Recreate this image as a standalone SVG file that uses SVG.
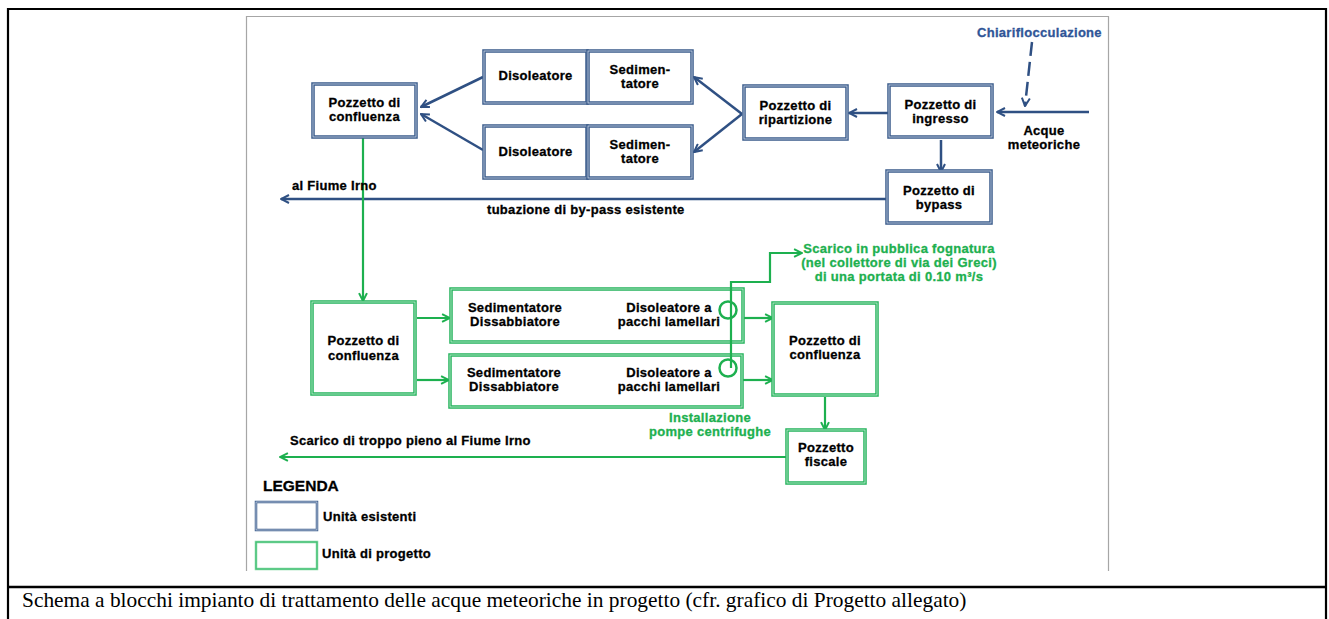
<svg xmlns="http://www.w3.org/2000/svg" width="1329" height="619" viewBox="0 0 1329 619">
<style>
.t{font-family:"Liberation Sans",Arial,sans-serif;font-weight:bold;font-size:13px;letter-spacing:0.3px;fill:#000;stroke:#000;stroke-width:0.3;}
.c{text-anchor:middle;}
.bt{fill:#2f5597;stroke:#2f5597;}
.gt{fill:#1db04f;stroke:#1db04f;}
.eb{fill:#fff;stroke:#3a5b8b;stroke-width:3.5;}
.ebi{fill:none;stroke:#cfdae9;stroke-width:0.8;}
.gb{fill:#fff;stroke:#25b35c;stroke-width:3.5;}
.gbi{fill:none;stroke:#c8efd6;stroke-width:0.8;}
.bl{fill:none;stroke:#2f5083;stroke-width:2.5;}
.gl{fill:none;stroke:#1db04f;stroke-width:2.2;}
.cap{font-family:"Liberation Serif","Times New Roman",serif;font-size:21.4px;fill:#000;}
</style>
<defs>
<marker id="ab" viewBox="0 0 10 10" refX="9" refY="5" markerWidth="4" markerHeight="4" orient="auto" markerUnits="strokeWidth">
<path d="M1,1 L9,5 L1,9" fill="none" stroke="#2f5083" stroke-width="2"/>
</marker>
<marker id="ag" viewBox="0 0 10 10" refX="9" refY="5" markerWidth="4.5" markerHeight="4.5" orient="auto" markerUnits="strokeWidth">
<path d="M1,1 L9,5 L1,9" fill="none" stroke="#1db04f" stroke-width="2"/>
</marker>
</defs>
<rect width="1329" height="619" fill="#fff"/>
<g id="frame">
<path d="M8,625 L8,9 L1326,9 L1326,625" fill="none" stroke="#000" stroke-width="2.2"/>
<line x1="8" y1="587" x2="1326" y2="587" stroke="#000" stroke-width="2.5"/>
<path d="M246.5,571 L246.5,16.5 L1108.5,16.5 L1108.5,571" fill="none" stroke="#a6a6a6" stroke-width="1.2"/>
</g>
<g id="connectors">
<line class="bl" x1="483" y1="77" x2="421" y2="107" marker-end="url(#ab)"/>
<line class="bl" x1="483" y1="150" x2="421" y2="114" marker-end="url(#ab)"/>
<line class="bl" x1="742" y1="114" x2="694" y2="77" marker-end="url(#ab)"/>
<line class="bl" x1="742" y1="114" x2="694" y2="152" marker-end="url(#ab)"/>
<line class="bl" x1="889" y1="113" x2="849" y2="113" marker-end="url(#ab)"/>
<line class="bl" x1="1089" y1="112" x2="997" y2="112" marker-end="url(#ab)"/>
<line class="bl" x1="1032" y1="42" x2="1025" y2="106" stroke-dasharray="14,6" marker-end="url(#ab)"/>
<line class="bl" x1="941" y1="140" x2="941" y2="172" marker-end="url(#ab)"/>
<line class="bl" x1="887" y1="199" x2="281" y2="199" marker-end="url(#ab)"/>
<line class="gl" x1="363" y1="138" x2="363" y2="301" marker-end="url(#ag)"/>
<line class="gl" x1="417" y1="318" x2="450" y2="318" marker-end="url(#ag)"/>
<line class="gl" x1="417" y1="380" x2="449" y2="380" marker-end="url(#ag)"/>
<line class="gl" x1="744" y1="318" x2="773" y2="318" marker-end="url(#ag)"/>
<line class="gl" x1="742" y1="380" x2="773" y2="380" marker-end="url(#ag)"/>
<line class="gl" x1="825" y1="397" x2="825" y2="430" marker-end="url(#ag)"/>
<line class="gl" x1="787" y1="457" x2="280" y2="457" marker-end="url(#ag)"/>
</g>
<g id="n_conf_top"><rect class="eb" x="313" y="84" width="103" height="53"/><rect class="ebi" x="313" y="84" width="103" height="53"/>
<text class="t c" x="364.5" y="107">Pozzetto di</text><text class="t c" x="364.5" y="121">confluenza</text></g>
<g id="n_diso1"><rect class="eb" x="484" y="51" width="103" height="52"/><rect class="ebi" x="484" y="51" width="103" height="52"/>
<text class="t c" x="535.5" y="79.5">Disoleatore</text></g>
<g id="n_sed1"><rect class="eb" x="588" y="51" width="104" height="52"/><rect class="ebi" x="588" y="51" width="104" height="52"/>
<text class="t c" x="640" y="74">Sedimen-</text><text class="t c" x="640" y="88">tatore</text></g>
<g id="n_diso2"><rect class="eb" x="484" y="126" width="103" height="52"/><rect class="ebi" x="484" y="126" width="103" height="52"/>
<text class="t c" x="535.5" y="156">Disoleatore</text></g>
<g id="n_sed2"><rect class="eb" x="588" y="126" width="104" height="52"/><rect class="ebi" x="588" y="126" width="104" height="52"/>
<text class="t c" x="640" y="148.5">Sedimen-</text><text class="t c" x="640" y="162.5">tatore</text></g>
<g id="n_ripartizione"><rect class="eb" x="744" y="86" width="103" height="53"/><rect class="ebi" x="744" y="86" width="103" height="53"/>
<text class="t c" x="795.5" y="110">Pozzetto di</text><text class="t c" x="795.5" y="124">ripartizione</text></g>
<g id="n_ingresso"><rect class="eb" x="889" y="85" width="103" height="52"/><rect class="ebi" x="889" y="85" width="103" height="52"/>
<text class="t c" x="940.5" y="109">Pozzetto di</text><text class="t c" x="940.5" y="122.5">ingresso</text></g>
<g id="n_bypass"><rect class="eb" x="887" y="171" width="104" height="52"/><rect class="ebi" x="887" y="171" width="104" height="52"/>
<text class="t c" x="939" y="195">Pozzetto di</text><text class="t c" x="939" y="209">bypass</text></g>
<g id="n_conf_g1"><rect class="gb" x="312" y="302" width="103" height="92"/><rect class="gbi" x="312" y="302" width="103" height="92"/>
<text class="t c" x="363.5" y="345">Pozzetto di</text><text class="t c" x="363.5" y="359.5">confluenza</text></g>
<g id="n_line1"><rect class="gb" x="451" y="289" width="292" height="53"/><rect class="gbi" x="451" y="289" width="292" height="53"/>
<text class="t c" x="515" y="312">Sedimentatore</text><text class="t c" x="515" y="326">Dissabbiatore</text>
<text class="t c" x="669" y="312">Disoleatore a</text><text class="t c" x="669" y="326">pacchi lamellari</text></g>
<g id="n_line2"><rect class="gb" x="450" y="355" width="292" height="52"/><rect class="gbi" x="450" y="355" width="292" height="52"/>
<text class="t c" x="514" y="377">Sedimentatore</text><text class="t c" x="514" y="391">Dissabbiatore</text>
<text class="t c" x="669" y="377">Disoleatore a</text><text class="t c" x="669" y="391">pacchi lamellari</text></g>
<g id="n_pumps">
<circle cx="728" cy="310" r="8.5" fill="none" stroke="#1db04f" stroke-width="2.5"/>
<circle cx="728" cy="368" r="8.5" fill="none" stroke="#1db04f" stroke-width="2.5"/>
<polyline class="gl" points="731,368 731,282 770,282 770,253 802,253" marker-end="url(#ag)"/>
</g>
<g id="n_conf_g2"><rect class="gb" x="773" y="303" width="104" height="92"/><rect class="gbi" x="773" y="303" width="104" height="92"/>
<text class="t c" x="825" y="344.5">Pozzetto di</text><text class="t c" x="825" y="359">confluenza</text></g>
<g id="n_fiscale"><rect class="gb" x="787" y="430" width="78" height="53"/><rect class="gbi" x="787" y="430" width="78" height="53"/>
<text class="t c" x="826" y="452">Pozzetto</text><text class="t c" x="826" y="466">fiscale</text></g>
<g id="labels">
<text class="t bt" x="977" y="37">Chiariflocculazione</text>
<text class="t c" x="1044" y="135">Acque</text><text class="t c" x="1044" y="149">meteoriche</text>
<text class="t" x="292" y="190">al Fiume Irno</text>
<text class="t" x="487" y="214">tubazione di by-pass esistente</text>
<text class="t c gt" x="899" y="253">Scarico in pubblica fognatura</text>
<text class="t c gt" x="899" y="267">(nel collettore di via dei Greci)</text>
<text class="t c gt" x="899" y="281">di una portata di 0.10 m³/s</text>
<text class="t c gt" x="710" y="422">Installazione</text>
<text class="t c gt" x="710" y="436">pompe centrifughe</text>
<text class="t" x="290" y="445">Scarico di troppo pieno al Fiume Irno</text>
</g>
<g id="legend">
<text class="t" x="263" y="491" style="font-size:15.5px;letter-spacing:0">LEGENDA</text>
<rect class="eb" x="256" y="502" width="61" height="28" style="stroke-width:2.5"/><rect class="ebi" x="256" y="502" width="61" height="28"/>
<text class="t" x="323" y="521">Unità esistenti</text>
<rect class="gb" x="256" y="542" width="61" height="27" style="stroke:#7fd6a0;stroke-width:2.5"/><rect class="gbi" x="256" y="542" width="61" height="27" style="stroke:#2cb863"/>
<text class="t" x="322" y="558">Unità di progetto</text>
</g>
<text class="cap" x="22" y="607">Schema a blocchi impianto di trattamento delle acque meteoriche in progetto (cfr. grafico di Progetto allegato)</text>
</svg>
